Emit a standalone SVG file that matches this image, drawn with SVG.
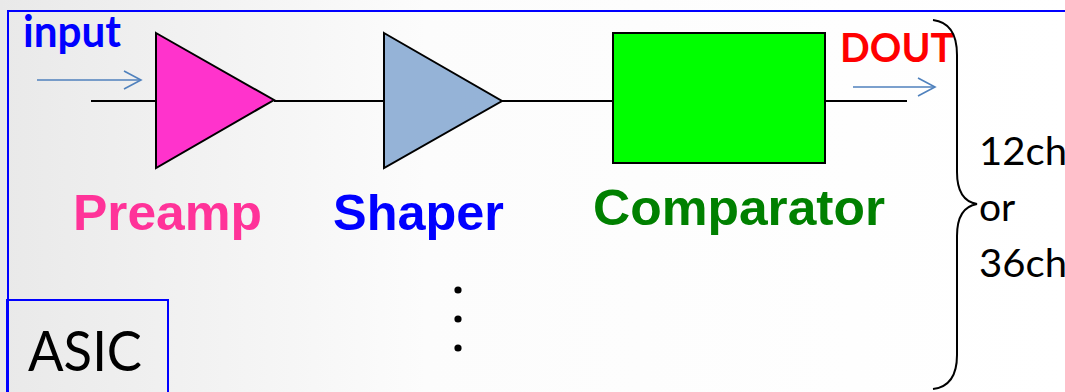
<svg xmlns="http://www.w3.org/2000/svg" width="1065" height="392" viewBox="0 0 1065 392">
  <defs>
    <linearGradient id="bg" x1="0" y1="0" x2="1" y2="0">
      <stop offset="0" stop-color="#e9e9e9"/>
      <stop offset="0.4" stop-color="#fcfcfc"/>
      <stop offset="1" stop-color="#ffffff"/>
    </linearGradient>
    <marker id="open" viewBox="0 0 20 20" refX="18" refY="10" markerWidth="20" markerHeight="20" markerUnits="userSpaceOnUse" orient="auto">
      <path d="M1,1 L18,10 L1,19" fill="none" stroke="#4f81bd" stroke-width="1.6"/>
    </marker>
    <style>
      .wire { stroke: #000; stroke-width: 2; fill: none; }
      .flow { stroke: #4f81bd; stroke-width: 1.6; fill: none; marker-end: url(#open); }
      .part { stroke: #000; stroke-width: 2; stroke-linejoin: miter; }
      .frame { fill: none; stroke: #0000ff; stroke-width: 2; }
      .label { font-family: "Liberation Sans", Arial, sans-serif; font-weight: bold; font-size: 50px; }
      .tag { font-family: Lato, "Liberation Sans", sans-serif; font-weight: bold; }
      .plain { font-family: Lato, "Liberation Sans", sans-serif; fill: #000; }
    </style>
  </defs>

  <rect x="0" y="0" width="1065" height="392" fill="url(#bg)"/>

  <!-- chip outline -->
  <g id="asic-frame">
    <rect class="frame" x="8" y="11" width="1080" height="400"/>
  </g>

  <!-- signal wires and flow arrows -->
  <g id="connectors">
    <line class="wire" x1="91" y1="101" x2="156" y2="101"/>
    <line class="wire" x1="274" y1="101" x2="384" y2="101"/>
    <line class="wire" x1="502" y1="101" x2="613" y2="101"/>
    <line class="wire" x1="825" y1="101" x2="907" y2="101"/>
    <line class="flow" x1="37" y1="80" x2="141" y2="80"/>
    <line class="flow" x1="853" y1="87" x2="935" y2="87"/>
  </g>

  <g id="input">
    <text class="tag" x="23" y="47" font-size="44" fill="#0000ff" textLength="98" lengthAdjust="spacingAndGlyphs">input</text>
  </g>

  <g id="preamp">
    <polygon class="part" points="156,33 274,100 156,168" fill="#ff33cc"/>
    <text class="label" x="73" y="230" font-size="51" fill="#ff3399" textLength="189" lengthAdjust="spacingAndGlyphs">Preamp</text>
  </g>

  <g id="shaper">
    <polygon class="part" points="384,33 502,101 384,168" fill="#95b3d7"/>
    <text class="label" x="333" y="230" fill="#0000ff" textLength="171" lengthAdjust="spacingAndGlyphs">Shaper</text>
  </g>

  <g id="comparator">
    <rect class="part" x="613" y="33" width="212" height="130" fill="#00ff00"/>
    <text class="label" x="593" y="225" fill="#008000" textLength="292" lengthAdjust="spacingAndGlyphs">Comparator</text>
  </g>

  <g id="dout">
    <text class="tag" x="840" y="62" font-size="40" fill="#ff0000" textLength="114" lengthAdjust="spacingAndGlyphs">DOUT</text>
  </g>

  <!-- repeated channels -->
  <g id="more-channels" fill="#000">
    <circle cx="458" cy="290" r="3.6"/>
    <circle cx="458" cy="319" r="3.6"/>
    <circle cx="458" cy="348" r="3.6"/>
  </g>

  <g id="channel-brace">
    <path class="wire" d="M933,20 C950,22 957,35 957,55 L957,172 C957,193 965,202 977,204 C965,206 957,215 957,236 L957,355 C957,375 950,387 933,389"/>
    <text class="plain" x="979" y="165" font-size="39" textLength="88" lengthAdjust="spacingAndGlyphs">12ch</text>
    <text class="plain" x="979" y="221" font-size="39">or</text>
    <text class="plain" x="979" y="277" font-size="39" textLength="88" lengthAdjust="spacingAndGlyphs">36ch</text>
  </g>

  <g id="asic-label">
    <rect class="frame" x="7" y="300" width="161" height="110"/>
    <text class="plain" x="28" y="371" font-size="57" textLength="114" lengthAdjust="spacingAndGlyphs">ASIC</text>
  </g>
</svg>
